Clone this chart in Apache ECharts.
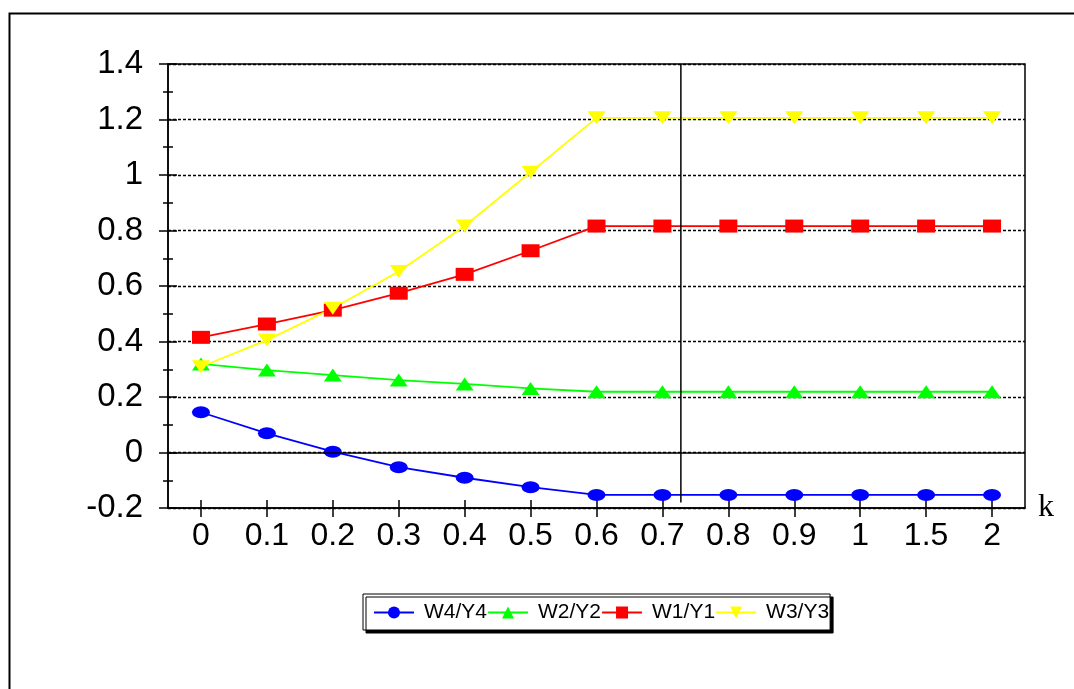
<!DOCTYPE html>
<html>
<head>
<meta charset="utf-8">
<script src="https://cdn.jsdelivr.net/npm/echarts@6/dist/echarts.min.js"></script>
<style>
html,body{margin:0;padding:0;background:#fff;}
#chart{width:1074px;height:689px;}
</style>
</head>
<body>
<div id="chart"></div>
<script>
// ---- data ----
const categories = ['0','0.1','0.2','0.3','0.4','0.5','0.6','0.7','0.8','0.9','1','1.5','2'];
const W4Y4 = [0.145, 0.069, 0.003, -0.053, -0.091, -0.125, -0.153, -0.153, -0.153, -0.153, -0.153, -0.153, -0.153];
const W2Y2 = [0.319, 0.297, 0.279, 0.261, 0.247, 0.231, 0.219, 0.219, 0.219, 0.219, 0.219, 0.219, 0.219];
const W1Y1 = [0.415, 0.463, 0.513, 0.574, 0.642, 0.727, 0.816, 0.816, 0.816, 0.816, 0.816, 0.816, 0.816];
const W3Y3 = [0.309, 0.405, 0.52, 0.652, 0.816, 1.01, 1.206, 1.206, 1.206, 1.206, 1.206, 1.206, 1.206];
const seriesNames = ['W4/Y4', 'W2/Y2', 'W1/Y1', 'W3/Y3'];
const yMin = -0.2, yMax = 1.4, yStep = 0.2;
const dividerPos = 7.78; // vertical reference line, in category-band units (0..13)

const chart = echarts.init(document.getElementById('chart'), null, {renderer: 'canvas'});

const sans = '"Liberation Sans", Arial, sans-serif';
const serif = '"Liberation Serif", "Times New Roman", serif';

function lineSeries(name, data, color, symbol, size) {
  return {
    name: name,
    type: 'line',
    data: data,
    xAxisIndex: 0,
    yAxisIndex: 0,
    symbol: symbol,
    symbolSize: size,
    showAllSymbol: true,
    lineStyle: {color: color, width: 1.8},
    itemStyle: {color: color, borderWidth: 0},
    emphasis: {disabled: true},
    animation: false
  };
}

const s1 = lineSeries(seriesNames[0], W4Y4, '#0000ff', 'circle', [18, 12]);
s1.markLine = {
  silent: true,
  symbol: 'none',
  label: {show: false},
  lineStyle: {color: '#000', type: 'solid', width: 1.5},
  data: [{yAxis: 0}],
  animation: false
};
const s2 = lineSeries(seriesNames[1], W2Y2, '#00ff00', 'triangle', [18, 13]);
const s3 = lineSeries(seriesNames[2], W1Y1, '#ff0000', 'rect', [18, 13]);
const s4 = lineSeries(seriesNames[3], W3Y3, '#ffff00', 'path://M0,0 L2,0 L1,1.4 Z', [18, 13]);

const option = {
  backgroundColor: '#fff',
  animation: false,
  graphic: [{
    type: 'rect',
    shape: {x: 9.5, y: 13.5, width: 1200, height: 1000},
    style: {fill: 'none', stroke: '#000', lineWidth: 2},
    silent: true,
    z: -10
  }],
  grid: {
    left: 168, right: 49, top: 64, bottom: 181,
    show: true, borderColor: '#000', borderWidth: 1.5, backgroundColor: 'transparent'
  },
  legend: {
    data: seriesNames,
    left: 363, top: 594,
    orient: 'horizontal',
    itemWidth: 40, itemHeight: 15, itemGap: 0,
    padding: [8, 1, 7, 10],
    backgroundColor: '#fff',
    borderColor: '#000', borderWidth: 1,
    shadowColor: '#000', shadowBlur: 0, shadowOffsetX: 3, shadowOffsetY: 3,
    textStyle: {fontFamily: sans, fontSize: 21, color: '#000', padding: [0, 0, 0, 5]},
    selectedMode: false
  },
  xAxis: [{
    type: 'category',
    data: categories,
    boundaryGap: true,
    name: 'k',
    nameLocation: 'end',
    nameGap: 13,
    nameTextStyle: {fontFamily: serif, fontSize: 32, color: '#000', verticalAlign: 'middle'},
    axisLine: {show: true, onZero: false, lineStyle: {color: '#000', width: 1.5}},
    axisTick: {show: true, alignWithLabel: true, length: 9, inside: false, lineStyle: {color: '#000', width: 1.5}},
    axisLabel: {fontFamily: sans, fontSize: 32, color: '#000', margin: 12, interval: 0},
    splitLine: {show: false}
  }, {
    type: 'category',
    data: categories,
    boundaryGap: true,
    position: 'bottom',
    axisLine: {show: false, onZero: false},
    axisTick: {show: true, alignWithLabel: true, length: 8, inside: true, lineStyle: {color: '#000', width: 1.5}},
    axisLabel: {show: false},
    splitLine: {show: false}
  }, {
    type: 'value',
    min: 0, max: 13,
    show: false
  }],
  yAxis: [{
    type: 'value',
    min: yMin, max: yMax, interval: yStep,
    axisLine: {show: true, onZero: false, lineStyle: {color: '#000', width: 1.5}},
    axisTick: {show: true, length: 9, inside: false, lineStyle: {color: '#000', width: 1.5}},
    minorTick: {show: true, splitNumber: 2, length: 5, lineStyle: {color: '#000', width: 1.5}},
    axisLabel: {fontFamily: sans, fontSize: 33, color: '#000', margin: 25},
    splitLine: {show: true, lineStyle: {color: '#000', type: [3, 2], width: 1.3}}
  }, {
    type: 'value',
    min: yMin, max: yMax, interval: yStep,
    position: 'left',
    axisLine: {show: false, onZero: false},
    axisTick: {show: true, length: 9, inside: true, lineStyle: {color: '#000', width: 1.5}},
    minorTick: {show: true, splitNumber: 2, length: 5, lineStyle: {color: '#000', width: 1.5}},
    axisLabel: {show: false},
    splitLine: {show: false}
  }],
  series: [s1, s2, s3, s4, {
    name: 'divider',
    type: 'line',
    xAxisIndex: 2,
    yAxisIndex: 0,
    data: [[dividerPos, yMin + 0.02], [dividerPos, yMax]],
    symbol: 'none',
    lineStyle: {color: '#000', width: 1.5},
    silent: true,
    emphasis: {disabled: true},
    animation: false
  }]
};

chart.setOption(option);
</script>
</body>
</html>
